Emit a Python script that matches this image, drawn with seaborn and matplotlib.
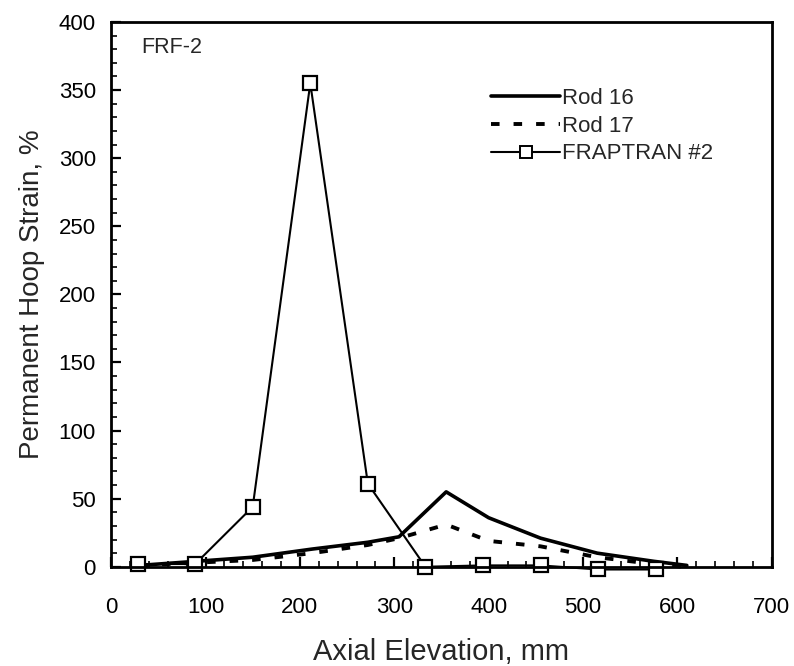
import matplotlib
matplotlib.use("Agg")
import matplotlib.pyplot as plt
from matplotlib.ticker import MultipleLocator
from matplotlib.lines import Line2D
import seaborn as sns
import pandas as pd

# Measured hoop strain profiles (Rod 16 / Rod 17) and FRAPTRAN #2 prediction
rod16_x = [30, 90, 150, 213, 272, 305, 355, 400, 455, 515, 575, 610]
rod16_y = [1, 4, 7, 13, 18, 22, 55, 36, 21, 10, 4, 1]

rod17_x = [30, 90, 150, 213, 272, 305, 355, 400, 455, 515, 575, 605]
rod17_y = [1, 3, 5, 10, 16, 21, 31, 19, 15, 7, 2, 0]

frap_x = [28, 89, 150, 211, 272, 333, 394, 455, 516, 577]
frap_y = [2, 2, 44, 355, 61, 0, 1, 1, -2, -2]

series_names = ["Rod 16", "Rod 17", "FRAPTRAN #2"]

sns.set_style("ticks")
plt.rcParams["font.family"] = ["Liberation Sans", "DejaVu Sans"]

fig = plt.figure(figsize=(7.94, 6.66), dpi=100)
ax = fig.add_axes([0.140, 0.149, 0.832, 0.818])

df16 = pd.DataFrame({"x": rod16_x, "y": rod16_y})
df17 = pd.DataFrame({"x": rod17_x, "y": rod17_y})
dff = pd.DataFrame({"x": frap_x, "y": frap_y})

sns.lineplot(data=df16, x="x", y="y", ax=ax, color="black", lw=2.6,
             sort=False, estimator=None)
sns.lineplot(data=df17, x="x", y="y", ax=ax, color="black", lw=2.8,
             sort=False, estimator=None)
ax.lines[-1].set_dashes((2.2, 3.6))
sns.lineplot(data=dff, x="x", y="y", ax=ax, color="black", lw=1.5,
             marker="s", markersize=10, markerfacecolor="white",
             markeredgecolor="black", markeredgewidth=1.6,
             sort=False, estimator=None)
for ln in ax.lines:
    ln.set_clip_on(False)

ax.set_xlim(0, 700)
ax.set_ylim(0, 400)
ax.xaxis.set_major_locator(MultipleLocator(100))
ax.xaxis.set_minor_locator(MultipleLocator(20))
ax.yaxis.set_major_locator(MultipleLocator(50))
ax.yaxis.set_minor_locator(MultipleLocator(10))
ax.tick_params(which="major", direction="in", length=7, width=1.6,
               labelsize=16, colors="black")
ax.tick_params(axis="x", which="major", pad=22)
ax.tick_params(axis="y", which="major", pad=11)
ax.tick_params(which="minor", direction="in", length=4, width=1.4)
for sp in ax.spines.values():
    sp.set_linewidth(2.0)
    sp.set_color("black")

ax.set_xlabel("Axial Elevation, mm", fontsize=21, labelpad=14)
ax.set_ylabel("Permanent Hoop Strain, %", fontsize=20, labelpad=10)

ax.text(32, 381, "FRF-2", fontsize=15.5, va="center", ha="left")

handles = [
    Line2D([], [], color="black", lw=2.6),
    Line2D([], [], color="black", lw=2.8, dashes=(2.2, 3.6)),
    Line2D([], [], color="black", lw=1.5, marker="s", markersize=9,
           markerfacecolor="white", markeredgecolor="black", markeredgewidth=1.4),
]
ax.legend(handles, series_names, loc="upper left", bbox_to_anchor=(0.562, 0.895),
          frameon=False, fontsize=16, handlelength=3.1, handletextpad=0.1,
          labelspacing=0.3, borderaxespad=0)

fig.savefig("out.png", dpi=100, facecolor="white")
